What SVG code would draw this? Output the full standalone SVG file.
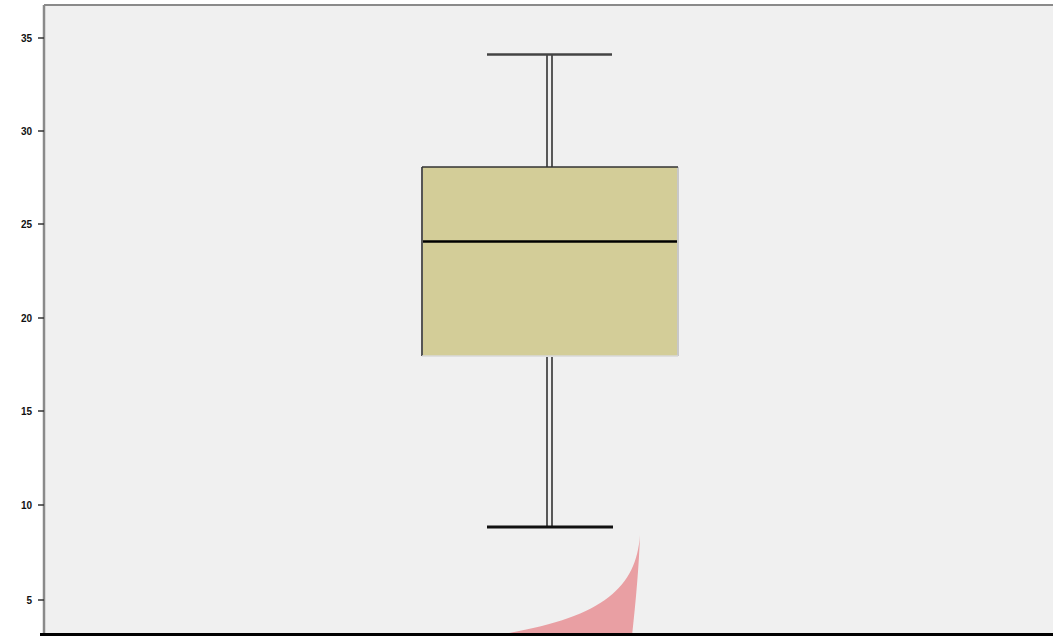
<svg xmlns="http://www.w3.org/2000/svg" width="1053" height="637" viewBox="0 0 1053 637">
<style>
.tick{stroke:#333;stroke-width:1.5}
.lbl{font-family:"Liberation Sans",Arial,sans-serif;font-size:10px;fill:#111;text-anchor:end;font-weight:bold}
.wh{stroke:#333;stroke-width:1.6;fill:none}
</style>
<rect x="0" y="0" width="1053" height="637" fill="#ffffff"/>
<rect x="44" y="5" width="1009" height="629" fill="#f0f0f0"/>
<line x1="44" y1="5" x2="1053" y2="5" stroke="#8a8a8a" stroke-width="2"/>
<line x1="44" y1="5" x2="44" y2="634" stroke="#8a8a8a" stroke-width="2.5"/>
<g id="pink">
<path d="M640,535 C636,590 600,620 490,636 L632,636 C636,600 639,565 640,535 Z" fill="#e99fa3"/>
</g>
<g id="axis">
<line x1="40" y1="634.5" x2="1053" y2="634.5" stroke="#000" stroke-width="3"/>
<line class="tick" x1="38" y1="38" x2="44" y2="38"/>
<line class="tick" x1="38" y1="131" x2="44" y2="131"/>
<line class="tick" x1="38" y1="224" x2="44" y2="224"/>
<line class="tick" x1="38" y1="318" x2="44" y2="318"/>
<line class="tick" x1="38" y1="411" x2="44" y2="411"/>
<line class="tick" x1="38" y1="505" x2="44" y2="505"/>
<line class="tick" x1="38" y1="600" x2="44" y2="600"/>
<text class="lbl" x="32" y="42">35</text>
<text class="lbl" x="32" y="135">30</text>
<text class="lbl" x="32" y="228">25</text>
<text class="lbl" x="32" y="322">20</text>
<text class="lbl" x="32" y="415">15</text>
<text class="lbl" x="32" y="509">10</text>
<text class="lbl" x="32" y="604">5</text>
</g>
<g id="box">
<rect x="421" y="167" width="257" height="189" fill="#d3cd98"/>
<line x1="422" y1="167" x2="422" y2="356" stroke="#555" stroke-width="2"/>
<line x1="678" y1="167" x2="678" y2="356" stroke="#c8c8c8" stroke-width="2"/>
<line x1="422" y1="167" x2="678" y2="167" stroke="#333" stroke-width="1.6"/>
<line x1="422" y1="356" x2="678" y2="356" stroke="#d8d8d8" stroke-width="1.5"/>
<line x1="423" y1="241.5" x2="677" y2="241.5" stroke="#000" stroke-width="2.6"/>
</g>
<g id="whiskers">
<line class="wh" x1="547" y1="54" x2="547" y2="167"/>
<line class="wh" x1="552" y1="54" x2="552" y2="167"/>
<line x1="487" y1="54.5" x2="612" y2="54.5" stroke="#444" stroke-width="2.5"/>
<line class="wh" x1="547" y1="357" x2="547" y2="526"/>
<line class="wh" x1="552" y1="357" x2="552" y2="526"/>
<line x1="487" y1="527" x2="613" y2="527" stroke="#111" stroke-width="3"/>
</g>
</svg>
